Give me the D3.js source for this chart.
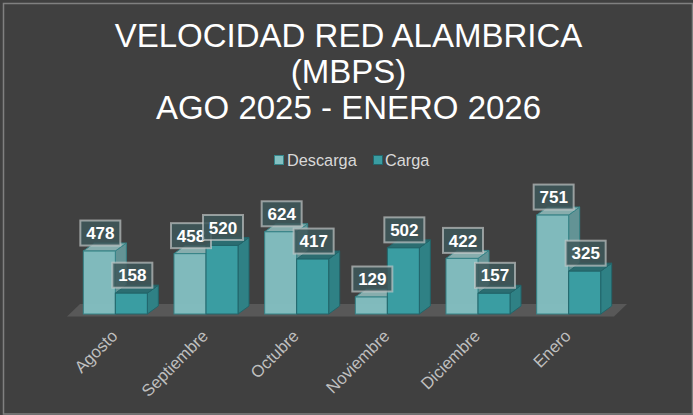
<!DOCTYPE html>
<html><head><meta charset="utf-8">
<script src="https://cdn.jsdelivr.net/npm/d3@7"></script>
<style>html,body{margin:0;padding:0;background:#404040;}svg{display:block;}</style>
</head><body>
<svg id="chart" width="693" height="415"></svg>
<script>
const categories = ["Agosto","Septiembre","Octubre","Noviembre","Diciembre","Enero"];
const seriesNames = ["Descarga","Carga"];
const descarga = [478,458,624,129,422,751];
const carga = [158,520,417,502,157,325];
const titleLines = ["VELOCIDAD RED ALAMBRICA","(MBPS)","AGO 2025 - ENERO 2026"];

const svg = d3.select("#chart");
const W = 693, H = 415;
const font = "'Liberation Sans', Arial, sans-serif";

svg.append("rect").attr("x",0).attr("y",0).attr("width",W).attr("height",H).attr("fill","#404040");
svg.append("rect").attr("x",3.5).attr("y",3.5).attr("width",W-4).attr("height",H-4.5)
  .attr("fill","none").attr("stroke","#808080").attr("stroke-width",1.5);

// title
svg.append("g").selectAll("text").data(titleLines).join("text")
  .attr("x",348.5).attr("y",(d,i)=>47+i*36)
  .attr("text-anchor","middle").attr("fill","#ffffff")
  .style("font-family",font).style("font-size","33px").text(d=>d);

// legend
const colors = {
  Descarga:{front:"#84c1c3", side:"#6eaeb0", top:"#9dcfd0", stroke:"#35868a"},
  Carga:{front:"#3a9da2", side:"#2f8185", top:"#2b6d71", stroke:"#22656a"}
};
const legend = [{name:"Descarga",x:274,tx:287},{name:"Carga",x:373,tx:385}];
const lg = svg.append("g");
lg.selectAll("rect").data(legend).join("rect")
  .attr("x",d=>d.x+0.5).attr("y",155.5).attr("width",9).attr("height",9)
  .attr("fill",d=>colors[d.name].front).attr("stroke",d=>colors[d.name].stroke).attr("stroke-width",1);
lg.selectAll("text").data(legend).join("text")
  .attr("x",d=>d.tx).attr("y",165.5).attr("fill","#d9d9d9")
  .style("font-family",font).style("font-size","16.3px").text(d=>d.name);

// scales
const base = 314;
const y = d3.scaleLinear().domain([0,800]).range([base, base-105.4]);
const x0 = d3.scaleBand().domain(categories).range([70,614]).paddingInner(0.294).paddingOuter(0.147);
const x1 = d3.scaleBand().domain(seriesNames).range([0,x0.bandwidth()]);
const dx = 11, dy = 8;

// floor
const fl = [[67,316.5],[614,316.5],[627,304],[80,304]];
svg.append("polygon").attr("points",fl.map(p=>p.join(",")).join(" ")).attr("fill","#585858");

const data = categories.map((c,i)=>({cat:c, vals:[{s:"Descarga",v:descarga[i]},{s:"Carga",v:carga[i]}]}));

const barsG = svg.append("g");
data.forEach(d=>{
  d.vals.forEach(b=>{
    const xl = x0(d.cat)+x1(b.s), w = x1.bandwidth(), yt = y(b.v);
    const c = colors[b.s];
    const g = barsG.append("g").attr("opacity", b.s==="Descarga"?0.95:1);
    g.append("polygon").attr("points",[[xl+w,yt],[xl+w+dx,yt-dy],[xl+w+dx,base-dy],[xl+w,base]].map(p=>p.join(",")).join(" "))
      .attr("fill",c.side).attr("fill-opacity",b.s==="Descarga"?0.8:1).attr("stroke",c.stroke).attr("stroke-width",1).attr("stroke-linejoin","round");
    g.append("polygon").attr("points",[[xl,yt],[xl+dx,yt-dy],[xl+w+dx,yt-dy],[xl+w,yt]].map(p=>p.join(",")).join(" "))
      .attr("fill",c.top).attr("fill-opacity",b.s==="Descarga"?0.8:1).attr("stroke",c.stroke).attr("stroke-width",1).attr("stroke-linejoin","round");
    g.append("rect").attr("x",xl).attr("y",yt).attr("width",w).attr("height",base-yt)
      .attr("fill",c.front).attr("stroke",c.stroke).attr("stroke-width",1);
  });
});

// labels
const lblG = svg.append("g");
data.forEach(d=>{
  d.vals.forEach(b=>{
    const cx = x0(d.cat)+x1(b.s)+x1.bandwidth()/2+1, cy = y(b.v)-18;
    lblG.append("rect").attr("x",cx-20).attr("y",cy-12.5).attr("width",40).attr("height",25)
      .attr("fill","rgba(62,88,91,0.85)").attr("stroke","rgba(200,205,205,0.65)").attr("stroke-width",2);
    lblG.append("text").attr("x",cx).attr("y",cy).attr("dy","0.36em").attr("text-anchor","middle")
      .attr("fill","#ffffff").style("font-family",font).style("font-weight","bold").style("font-size","17px")
      .text(b.v);
  });
});

// x axis labels
svg.append("g").selectAll("text").data(categories).join("text")
  .attr("transform",d=>`translate(${x0(d)+x0.bandwidth()/2-1},333) rotate(-45)`)
  .attr("text-anchor","end").attr("dy","0.35em").attr("fill","#bfbfbf")
  .style("font-family",font).style("font-size","16.8px").text(d=>d);
</script>
</body></html>
